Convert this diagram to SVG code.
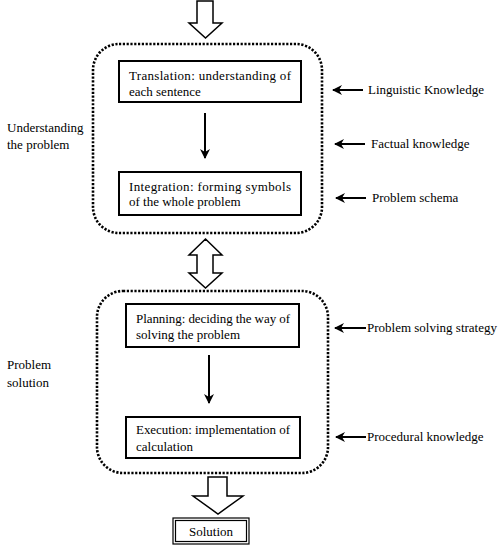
<svg xmlns="http://www.w3.org/2000/svg" width="502" height="550" viewBox="0 0 502 550" font-family="'Liberation Serif','Times New Roman',serif">
<defs>
<style>
text{font-family:"Liberation Serif","Times New Roman",serif;font-size:13px;fill:#000}
.box{fill:#fff;stroke:#000;stroke-width:2}
.group{fill:none;stroke:#000;stroke-width:2.6;stroke-dasharray:2.2 1.6}
.hollow{fill:#fff;stroke:#000;stroke-width:1.5;stroke-linejoin:miter}
.conn{stroke:#000;stroke-width:2;fill:none}
</style>
<marker id="ah" viewBox="0 0 10 10" refX="9" refY="5" markerWidth="5" markerHeight="5" orient="auto-start-reverse" markerUnits="strokeWidth">
<path d="M0,0 L10,5 L0,10 L3,5 Z" fill="#000"/>
</marker>
</defs>
<rect width="502" height="550" fill="#fff"/>

<g id="group-understanding">
<rect class="group" x="93" y="44" width="229" height="189" rx="26"/>
<text x="7" y="132">Understanding</text>
<text x="7" y="149">the problem</text>
</g>
<g id="group-solution">
<rect class="group" x="97" y="291" width="231" height="182" rx="26"/>
<text x="7" y="369">Problem</text>
<text x="7" y="387">solution</text>
</g>

<g id="connectors">
<path class="hollow" d="M197,1 H213 V23 H222 L205.5,38 L189,23 H197 Z"/>
<path class="hollow" d="M205.5,239 L222,255 H213 V273 H222 L205.5,288 L189,273 H197 V255 H189 Z"/>
<path class="hollow" d="M208,477 H227 V496 H243 L218,514 L193,496 H208 Z"/>
<line class="conn" x1="205" y1="113" x2="205" y2="158" marker-end="url(#ah)"/>
<line class="conn" x1="209" y1="355" x2="209" y2="403" marker-end="url(#ah)"/>
<line class="conn" x1="363" y1="90" x2="333" y2="90" marker-end="url(#ah)"/>
<line class="conn" x1="365" y1="144" x2="335" y2="144" marker-end="url(#ah)"/>
<line class="conn" x1="366" y1="198" x2="336" y2="198" marker-end="url(#ah)"/>
<line class="conn" x1="366" y1="328" x2="335" y2="328" marker-end="url(#ah)"/>
<line class="conn" x1="366" y1="437" x2="336" y2="437" marker-end="url(#ah)"/>
</g>

<g id="translation">
<rect class="box" x="119" y="61" width="182" height="41"/>
<text x="129" y="80" textLength="162" lengthAdjust="spacing">Translation: understanding of</text>
<text x="129" y="96">each sentence</text>
</g>
<g id="integration">
<rect class="box" x="119" y="172" width="182" height="43"/>
<text x="129" y="191" textLength="162" lengthAdjust="spacing">Integration: forming symbols</text>
<text x="129" y="206">of the whole problem</text>
</g>
<g id="planning">
<rect class="box" x="126" y="304" width="173" height="43"/>
<text x="136" y="323" textLength="154" lengthAdjust="spacing">Planning: deciding the way of</text>
<text x="136" y="339">solving the problem</text>
</g>
<g id="execution">
<rect class="box" x="126" y="417" width="174" height="41"/>
<text x="136" y="434" textLength="154" lengthAdjust="spacing">Execution: implementation of</text>
<text x="136" y="451">calculation</text>
</g>
<g id="solution">
<rect x="173" y="518" width="76" height="26" fill="#fff" stroke="#000" stroke-width="1.2"/>
<rect x="175.5" y="520.5" width="71" height="21" fill="none" stroke="#000" stroke-width="1.2"/>
<text x="211" y="535.5" text-anchor="middle">Solution</text>
</g>

<g id="labels">
<text x="368" y="94">Linguistic Knowledge</text>
<text x="371" y="148">Factual knowledge</text>
<text x="372" y="202">Problem schema</text>
<text x="367" y="332">Problem solving strategy</text>
<text x="367" y="441">Procedural knowledge</text>
</g>
</svg>
